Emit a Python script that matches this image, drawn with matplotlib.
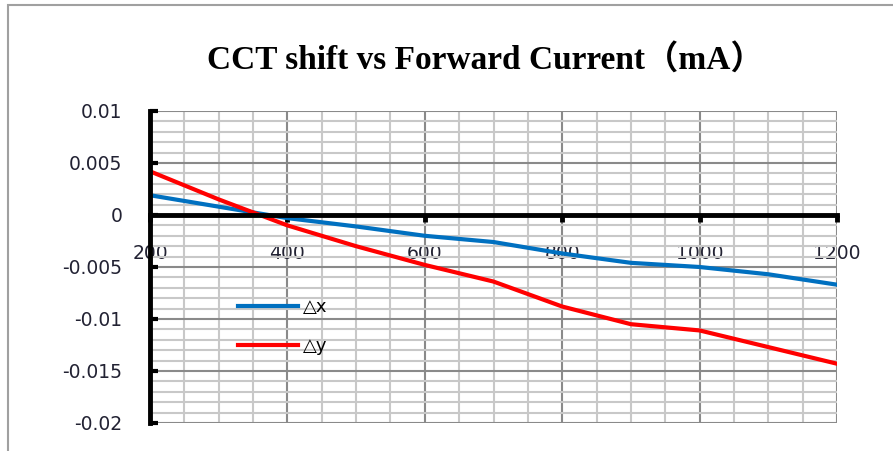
import matplotlib
matplotlib.use('Agg')
import matplotlib.pyplot as plt
from matplotlib.patches import Rectangle

# data
current = [200, 300, 400, 500, 600, 700, 800, 900, 1000, 1100, 1200]
dx = [0.0019, 0.0008, -0.0003, -0.0011, -0.0020, -0.0026, -0.0037, -0.0046, -0.0050, -0.0057, -0.0067]
dy = [0.0042, 0.0015, -0.0010, -0.0030, -0.0048, -0.0064, -0.0088, -0.0105, -0.0111, -0.0127, -0.0143]
xticks = [200, 400, 600, 800, 1000, 1200]
yticks = [0.01, 0.005, 0, -0.005, -0.01, -0.015, -0.02]
ytick_labels = ['0.01', '0.005', '0', '-0.005', '-0.01', '-0.015', '-0.02']
title = 'CCT shift vs Forward Current（mA）'

plt.rcParams['font.family'] = ['DejaVu Sans']

fig = plt.figure(figsize=(8.93, 4.51), dpi=100)
ax = fig.add_axes([150/893, 1-423/451, 687/893, 312/451])

#Grid
ax.set_xticks(range(200, 1201, 50), minor=True)
ax.set_yticks([i/1000 for i in range(-20, 11)], minor=True)
ax.grid(which='minor', color='#c8c8c8', linewidth=1.5)
ax.grid(which='major', color='#8a8a8a', linewidth=1.5)
ax.set_axisbelow(True)

#Lines
ax.plot(current, dx, color='#0070C0', linewidth=3, label='△x', solid_joinstyle='round')
ax.plot(current, dy, color='#FF0000', linewidth=3, label='△y', solid_joinstyle='round')

ax.set_xlim(200, 1200)
ax.set_ylim(-0.02, 0.01)
ax.set_xticks(xticks)
ax.set_yticks(yticks)
ax.set_yticklabels(ytick_labels)

#Spines
ax.spines['top'].set_visible(False)
ax.spines['right'].set_visible(False)
ax.spines['bottom'].set_position(('data', 0))
ax.spines['bottom'].set_linewidth(3.5)
ax.spines['left'].set_linewidth(3.5)
ax.spines['bottom'].set_zorder(5)
ax.spines['left'].set_zorder(5)
ax.tick_params(axis='x', which='major', direction='out', length=5, width=3.5, pad=16,
               labelsize=13.5, labelcolor='#222233')
ax.tick_params(axis='y', which='major', direction='in', length=6, width=3, pad=20,
               labelsize=13.5, labelcolor='#222233')
ax.tick_params(which='minor', length=0)

ax.legend(loc='upper left', bbox_to_anchor=(0.128, 0.40), frameon=False, fontsize=13,
          handlelength=3.3, labelspacing=1.15, borderpad=0, borderaxespad=0, handletextpad=0.3)

fig.text(0.543, 1-60/451, title, ha='center', va='center', fontsize=24, fontweight='bold',
         family=['Liberation Serif', 'Noto Sans CJK SC'])

#Chart border
fig.patches.append(Rectangle((8/893, -0.1), 1.2, 1.1 - 5/451, transform=fig.transFigure,
                             fill=False, edgecolor='#a0a0a0', linewidth=1.5))

fig.savefig('out.png', dpi=100)
